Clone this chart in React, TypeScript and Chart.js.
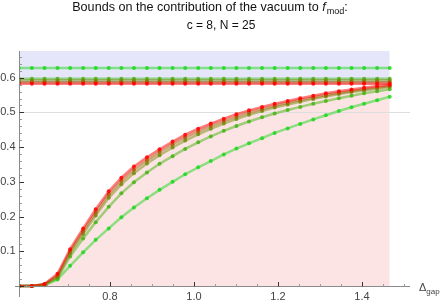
import React, { useEffect, useRef } from "react";
import { Chart, registerables } from "chart.js";
Chart.register(...registerables);

// ---- data ----
const X_VALUES = [0.583, 0.614, 0.644, 0.675, 0.705, 0.736, 0.766, 0.797, 0.827, 0.857, 0.888, 0.918, 0.949, 0.979, 1.01, 1.04, 1.071, 1.101, 1.131, 1.162, 1.192, 1.223, 1.253, 1.284, 1.314, 1.345, 1.375, 1.405, 1.436, 1.466];

// lower bounds (curves), N from small (green) to large (red)
const LOWER_N5 = [0, 0, 0.002, 0.019, 0.058, 0.097, 0.133, 0.166, 0.198, 0.226, 0.253, 0.277, 0.3, 0.322, 0.342, 0.36, 0.379, 0.396, 0.411, 0.426, 0.441, 0.454, 0.467, 0.48, 0.492, 0.504, 0.515, 0.525, 0.535, 0.545];
const LOWER_N10 = [0, 0, 0.003, 0.022, 0.085, 0.137, 0.184, 0.228, 0.267, 0.299, 0.327, 0.352, 0.374, 0.395, 0.414, 0.431, 0.447, 0.461, 0.474, 0.486, 0.497, 0.507, 0.516, 0.525, 0.533, 0.541, 0.548, 0.555, 0.561, 0.567];
const LOWER_N15 = [0, 0, 0.004, 0.026, 0.094, 0.15, 0.203, 0.254, 0.293, 0.325, 0.353, 0.377, 0.399, 0.419, 0.437, 0.453, 0.468, 0.481, 0.493, 0.504, 0.514, 0.523, 0.531, 0.539, 0.546, 0.553, 0.559, 0.564, 0.569, 0.574];
const LOWER_N20 = [0, 0, 0.005, 0.03, 0.1, 0.158, 0.212, 0.264, 0.303, 0.335, 0.362, 0.386, 0.408, 0.428, 0.445, 0.461, 0.475, 0.488, 0.5, 0.51, 0.519, 0.528, 0.536, 0.543, 0.55, 0.556, 0.562, 0.567, 0.572, 0.576];
const LOWER_N25 = [0, 0, 0.006, 0.035, 0.106, 0.166, 0.221, 0.273, 0.312, 0.344, 0.371, 0.394, 0.416, 0.436, 0.453, 0.468, 0.482, 0.495, 0.506, 0.516, 0.525, 0.533, 0.541, 0.548, 0.555, 0.561, 0.566, 0.571, 0.576, 0.58];

// upper bounds (constant lines)
const UPPER_N5 = 0.628;
const UPPER_N10 = 0.597;
const UPPER_N15 = 0.592;
const UPPER_N20 = 0.587;
const UPPER_N25 = 0.583;

const Y_MAJOR_TICKS = [0, 0.1, 0.2, 0.3, 0.4, 0.5, 0.6];
const Y_TICK_LABELS = ["", "0.1", "0.2", "0.3", "0.4", "0.5", "0.6"];
const Y_MINOR_TICKS = [0.02, 0.04, 0.06, 0.08, 0.12, 0.14, 0.16, 0.18, 0.22, 0.24, 0.26, 0.28, 0.32, 0.34, 0.36, 0.38, 0.42, 0.44, 0.46, 0.48, 0.52, 0.54, 0.56, 0.58, 0.62, 0.64, 0.66];
const X_MAJOR_TICKS = [0.8, 1.0, 1.2, 1.4];
const X_TICK_LABELS = ["0.8", "1.0", "1.2", "1.4"];
const X_MINOR_TICKS = [0.6, 0.65, 0.7, 0.75, 0.85, 0.9, 0.95, 1.05, 1.1, 1.15, 1.25, 1.3, 1.35, 1.45, 1.5];

const X_MIN = 0.5833;
const X_MAX = 1.5143;
const Y_MIN = -0.0317;
const Y_MAX = 0.677;

const COLORS = {
  n5: [30, 215, 30],
  n10: [70, 180, 20],
  n15: [115, 140, 10],
  n20: [170, 90, 10],
  n25: [255, 0, 0],
};

const FONT = '"Liberation Sans", Arial, Helvetica, sans-serif';

function rgba(c: number[], a: number) {
  return `rgba(${c[0]},${c[1]},${c[2]},${a})`;
}

function curve(vals: number[], col: number[], extra: any = {}) {
  return {
    data: X_VALUES.map((x, i) => ({ x, y: vals[i] })),
    borderColor: rgba(col, 0.5),
    borderWidth: 2.5,
    pointRadius: 2,
    pointBorderWidth: 0,
    pointBackgroundColor: rgba(col, 0.85),
    fill: false,
    tension: 0,
    ...extra,
  };
}

function hline(v: number, col: number[]) {
  return curve(X_VALUES.map(() => v), col);
}

const axesPlugin = {
  id: "mmaAxes",
  beforeDatasetsDraw(chart: any) {
    const { ctx, chartArea, scales } = chart;
    const y = scales.y.getPixelForValue(0.5);
    ctx.save();
    ctx.strokeStyle = "#dedede";
    ctx.lineWidth = 1;
    ctx.beginPath();
    ctx.moveTo(chartArea.left, Math.round(y) + 0.5);
    ctx.lineTo(chartArea.right, Math.round(y) + 0.5);
    ctx.stroke();
    ctx.restore();
  },
  afterDraw(chart: any) {
    const { ctx, chartArea, scales } = chart;
    const xs = scales.x;
    const ys = scales.y;
    const ax = Math.round(xs.getPixelForValue(X_MIN)) + 0.5;
    const ay = Math.round(ys.getPixelForValue(0)) + 0.5;
    ctx.save();
    ctx.lineWidth = 1;
    // axes lines
    ctx.strokeStyle = "#8a8a8a";
    ctx.beginPath();
    ctx.moveTo(ax, chartArea.top);
    ctx.lineTo(ax, chartArea.bottom);
    ctx.moveTo(chartArea.left - 4, ay);
    ctx.lineTo(chartArea.right, ay);
    ctx.stroke();
    // ticks
    ctx.strokeStyle = "#9a9a9a";
    ctx.beginPath();
    Y_MINOR_TICKS.forEach((v) => {
      const p = Math.round(ys.getPixelForValue(v)) + 0.5;
      ctx.moveTo(ax, p);
      ctx.lineTo(ax + 2.5, p);
    });
    X_MINOR_TICKS.forEach((v) => {
      const p = Math.round(xs.getPixelForValue(v)) + 0.5;
      ctx.moveTo(p, ay);
      ctx.lineTo(p, ay - 2.5);
    });
    ctx.stroke();
    ctx.strokeStyle = "#333";
    ctx.beginPath();
    Y_MAJOR_TICKS.forEach((v) => {
      const p = Math.round(ys.getPixelForValue(v)) + 0.5;
      ctx.moveTo(ax, p);
      ctx.lineTo(ax + 4.5, p);
    });
    X_MAJOR_TICKS.forEach((v) => {
      const p = Math.round(xs.getPixelForValue(v)) + 0.5;
      ctx.moveTo(p, ay);
      ctx.lineTo(p, ay - 4.5);
    });
    ctx.stroke();
    // labels
    ctx.fillStyle = "#444";
    ctx.font = `11px ${FONT}`;
    ctx.textAlign = "right";
    ctx.textBaseline = "middle";
    Y_MAJOR_TICKS.forEach((v, i) => {
      if (!Y_TICK_LABELS[i]) return;
      ctx.fillText(Y_TICK_LABELS[i], 15.5, ys.getPixelForValue(v));
    });
    ctx.textAlign = "center";
    ctx.textBaseline = "alphabetic";
    X_MAJOR_TICKS.forEach((v, i) => {
      ctx.fillText(X_TICK_LABELS[i], xs.getPixelForValue(v), 300);
    });
    // axis label Delta_gap
    ctx.textAlign = "left";
    ctx.font = `11px ${FONT}`;
    ctx.fillText("\u0394", 419, 291);
    const dw = ctx.measureText("\u0394").width;
    ctx.font = `8px ${FONT}`;
    ctx.fillText("gap", 419 + dw, 294);
    // title
    ctx.fillStyle = "#111";
    const size = 12.6;
    const p1 = "Bounds on the contribution of the vacuum to ";
    ctx.font = `${size}px ${FONT}`;
    const w1 = ctx.measureText(p1).width;
    ctx.font = `italic ${size}px ${FONT}`;
    const wf = ctx.measureText("f").width;
    ctx.font = `${size * 0.72}px ${FONT}`;
    const wm = ctx.measureText("mod").width;
    ctx.font = `${size}px ${FONT}`;
    const wc = ctx.measureText(":").width;
    const total = w1 + wf + 1 + wm + wc;
    let x = 210 - total / 2;
    const b1 = 11;
    ctx.fillText(p1, x, b1);
    x += w1;
    ctx.font = `italic ${size}px ${FONT}`;
    ctx.fillText("f", x, b1);
    x += wf + 1;
    ctx.font = `${size * 0.72}px ${FONT}`;
    ctx.fillText("mod", x, b1 + 3);
    x += wm;
    ctx.font = `${size}px ${FONT}`;
    ctx.fillText(":", x, b1);
    ctx.font = `12px ${FONT}`;
    ctx.textAlign = "center";
    ctx.fillText("c = 8, N = 25", 221, 29);
    ctx.restore();
  },
};

export default function App() {
  const ref = useRef<HTMLCanvasElement>(null);
  useEffect(() => {
    const canvas = ref.current!;
    const datasets: any[] = [
      hline(UPPER_N25, COLORS.n25),
      curve(LOWER_N25, COLORS.n25, { fill: "origin", backgroundColor: "#fde4e4" }),
      hline(UPPER_N20, COLORS.n20),
      curve(LOWER_N20, COLORS.n20),
      hline(UPPER_N15, COLORS.n15),
      curve(LOWER_N15, COLORS.n15),
      hline(UPPER_N10, COLORS.n10),
      curve(LOWER_N10, COLORS.n10),
      hline(UPPER_N5, COLORS.n5),
      curve(LOWER_N5, COLORS.n5),
      {
        data: [
          { x: X_VALUES[0], y: Y_MAX },
          { x: X_VALUES[X_VALUES.length - 1], y: Y_MAX },
        ],
        borderWidth: 0,
        pointRadius: 0,
        backgroundColor: "#e6e6fa",
        fill: { value: UPPER_N25 },
      },
    ];
    const chart = new Chart(canvas, {
      type: "line",
      data: { datasets },
      options: {
        animation: false,
        responsive: false,
        devicePixelRatio: 1,
        layout: { padding: { left: 19, right: 31, top: 51, bottom: 4 } },
        scales: {
          x: { type: "linear", display: false, min: X_MIN, max: X_MAX },
          y: { type: "linear", display: false, min: Y_MIN, max: Y_MAX },
        },
        plugins: {
          legend: { display: false },
          title: { display: false },
          tooltip: { enabled: false },
          filler: { drawTime: "beforeDatasetsDraw" },
        } as any,
      },
      plugins: [axesPlugin],
    });
    return () => chart.destroy();
  }, []);
  return (
    <div style={{ position: "fixed", left: 0, top: 0, width: 441, height: 301, background: "#fff" }}>
      <canvas ref={ref} width={441} height={301} style={{ display: "block" }} />
    </div>
  );
}
